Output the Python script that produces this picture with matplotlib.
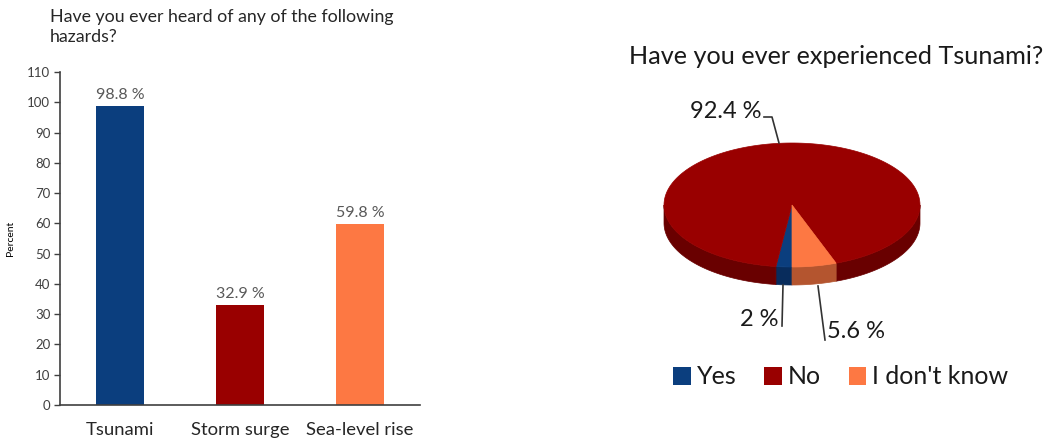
import numpy as np
import matplotlib.pyplot as plt
from matplotlib.patches import Polygon, Patch

plt.rcParams['font.family'] = ['Lato', 'DejaVu Sans']

# bar chart data
hazards = ['Tsunami', 'Storm surge', 'Sea-level rise']
heard_pct = [98.8, 32.9, 59.8]
bar_colors = ['#0b3e7e', '#990000', '#fd7843']

# pie chart data
answers = ['Yes', 'No', "I don't know"]
experienced_pct = [2.0, 92.4, 5.6]
pie_colors = ['#0b3e7e', '#990000', '#fd7843']
side_colors = ['#082c5c', '#690000', '#b4552f']

W, H = 1047, 438
fig = plt.figure(figsize=(W / 100, H / 100), dpi=100)

# ---- left: bar chart ----
ax = fig.add_axes([60 / W, 33 / H, 360 / W, 333 / H], zorder=2)
x = np.arange(len(hazards))
ax.bar(x, heard_pct, width=0.4, color=bar_colors)
for xi, v in zip(x, heard_pct):
    ax.annotate(f'{v} %', (xi, v), xytext=(0, 3), textcoords='offset points',
                ha='center', va='bottom', fontsize=11.5, color='#595959')
ax.set_xlim(-0.5, 2.5)
ax.set_ylim(0, 110)
ax.set_yticks(range(0, 111, 10))
ax.set_xticks(x)
ax.set_xticklabels(hazards, fontsize=13.3, color='#262626')
ax.tick_params(axis='x', length=0, pad=12)
ax.tick_params(axis='y', length=4, width=1, labelsize=9.5, labelcolor='#404040',
               color='#404040', pad=3)
ax.set_ylabel('Percent', fontsize=7.5, labelpad=9)
for s in ['top', 'right']:
    ax.spines[s].set_visible(False)
for s in ['left', 'bottom']:
    ax.spines[s].set_color('#404040')
    ax.spines[s].set_linewidth(1.2)

fig.text(50 / W, 1 - 9 / H, 'Have you ever heard of any of the following\nhazards?',
         ha='left', va='top', fontsize=12.8, color='#262626', linespacing=1.3)

# ---- right: 3D style pie drawn in pixel coordinates ----
pax = fig.add_axes([0, 0, 1, 1], zorder=1)
pax.set_xlim(0, W)
pax.set_ylim(H, 0)
pax.axis('off')
pax.patch.set_visible(False)

cx, cy, rx, ry, depth = 792, 205, 128, 62, 18


def rim(t):
    return cx + rx * np.cos(t), cy - ry * np.sin(t)


# slice angle ranges, clockwise starting at the front
ranges = []
start = -90.0
for p in experienced_pct:
    end = start - 360 * p / 100
    ranges.append((end, start))
    start = end

# side walls on the visible front half
for (a, b), c in zip(ranges, side_colors):
    for k in range(-2, 2):
        lo = max(a + 360 * k, -180)
        hi = min(b + 360 * k, 0)
        if hi <= lo:
            continue
        t = np.radians(np.linspace(lo, hi, 80))
        xs, ys = rim(t)
        pts = np.column_stack([np.r_[xs, xs[::-1]], np.r_[ys, ys[::-1] + depth]])
        pax.add_patch(Polygon(pts, closed=True, facecolor=c, edgecolor=c, lw=0.5))

# top face wedges
for (a, b), c in zip(ranges, pie_colors):
    t = np.radians(np.linspace(a, b, 200))
    xs, ys = rim(t)
    pts = np.column_stack([np.r_[cx, xs], np.r_[cy, ys]])
    pax.add_patch(Polygon(pts, closed=True, facecolor=c, edgecolor=c, lw=0.5))

pax.text(836, 57, 'Have you ever experienced Tsunami?', ha='center', va='center',
         fontsize=18.2, color='#1a1a1a')

# slice labels with leader lines
lab_kw = dict(fontsize=17, color='#1a1a1a', va='center')
pax.text(761, 112, f'{experienced_pct[1]} %', ha='right', **lab_kw)
pax.plot([764, 772, 779], [117, 117, 143], color='#333333', lw=1.2)
pax.text(778, 320, f'{experienced_pct[0]:g} %', ha='right', **lab_kw)
pax.plot([782, 783], [326, 285], color='#333333', lw=1.2)
pax.text(827, 331, f'{experienced_pct[2]} %', ha='left', **lab_kw)
pax.plot([825, 818], [340, 286], color='#333333', lw=1.2)

handles = [Patch(facecolor=c, edgecolor='none') for c in pie_colors]
fig.legend(handles, answers, loc='center', bbox_to_anchor=(841 / W, 1 - 377 / H),
           ncol=3, frameon=False, fontsize=18, handlelength=0.7, handleheight=0.7,
           handletextpad=0.25, columnspacing=1.1, labelcolor='#1a1a1a')

fig.savefig('out.png', dpi=100)
